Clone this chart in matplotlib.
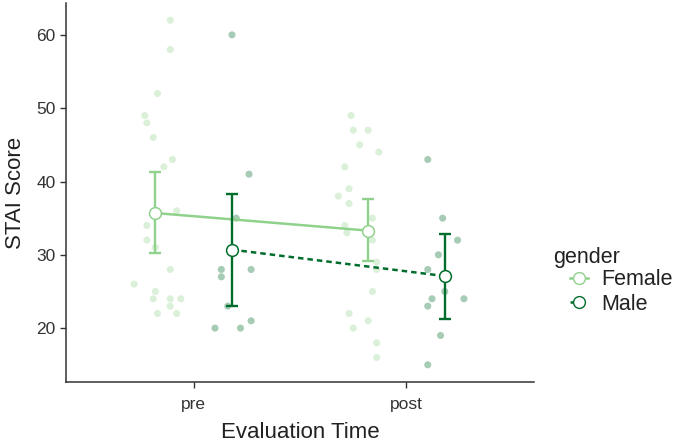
import numpy as np
import matplotlib.pyplot as plt
from matplotlib.lines import Line2D

plt.rcParams['font.family'] = ['Liberation Sans', 'DejaVu Sans']

# group summaries (mean, lower, upper)
times = ['pre', 'post']
female_mean = [35.7, 33.3]
female_lo = [30.2, 29.1]
female_hi = [41.3, 37.6]
male_mean = [30.7, 27.1]
male_lo = [23.0, 21.2]
male_hi = [38.3, 32.9]

# raw jittered points: x position (in category units), score
female_pre_x = [0.89, 0.89, 0.83, 0.77, 0.78, 0.81, 0.90, 0.86, 0.92, 0.78, 0.78,
                0.82, 0.89, 0.72, 0.82, 0.81, 0.89, 0.94, 0.89, 0.83, 0.92]
female_pre_y = [62, 58, 52, 49, 48, 46, 43, 42, 36, 34, 32,
                31, 28, 26, 25, 24, 24, 24, 23, 22, 22]
male_pre_x = [1.18, 1.26, 1.20, 1.13, 1.13, 1.27, 1.16, 1.27, 1.10, 1.22]
male_pre_y = [60, 41, 35, 28, 27, 28, 23, 21, 20, 20]
female_post_x = [1.74, 1.75, 1.82, 1.78, 1.87, 1.71, 1.73, 1.68, 1.73, 1.84, 1.71,
                 1.72, 1.84, 1.86, 1.86, 1.84, 1.73, 1.82, 1.75, 1.86, 1.86]
female_post_y = [49, 47, 47, 45, 44, 42, 39, 38, 37, 35, 34,
                 33, 32, 29, 28, 25, 22, 21, 20, 18, 16]
male_post_x = [2.10, 2.17, 2.24, 2.15, 2.10, 2.18, 2.12, 2.27, 2.10, 2.16, 2.10]
male_post_y = [43, 35, 32, 30, 28, 25, 24, 24, 23, 19, 15]

female_col = '#90d18b'
male_col = '#006d2c'
dodge = 0.18

fig = plt.figure(figsize=(6.77, 4.47), dpi=100)
ax = fig.add_axes([0.0975, 0.1454, 0.6915, 0.8479])

ax.scatter(female_pre_x + female_post_x, female_pre_y + female_post_y,
           s=26, color=female_col, alpha=0.32, edgecolors='none', zorder=2)
ax.scatter(male_pre_x + male_post_x, male_pre_y + male_post_y,
           s=26, color=male_col, alpha=0.35, edgecolors='none', zorder=2)

male_ls = (0, (2.2, 1.6))
xpos = np.arange(1, len(times) + 1)
for off, m, lo, hi, col, ls in [(-dodge, female_mean, female_lo, female_hi, female_col, '-'),
                                (dodge, male_mean, male_lo, male_hi, male_col, male_ls)]:
    xs = xpos + off
    m = np.array(m)
    ax.plot(xs, m, color=col, lw=1.8, ls=ls, zorder=3)
    ax.errorbar(xs, m, yerr=[m - np.array(lo), np.array(hi) - m], fmt='none',
                ecolor=col, elinewidth=1.7, capsize=4, capthick=1.7, zorder=4)
    ax.plot(xs, m, 'o', ms=8.5, mfc='white', mec=col, mew=1.1, zorder=5)

ax.set_xlim(0.4, 2.6)
ax.set_ylim(12.65, 64.35)
ax.set_xticks(xpos)
ax.set_xticklabels(times)
ax.set_yticks([20, 30, 40, 50, 60])
ax.tick_params(labelsize=12.5, color='#333333', labelcolor='#333333', length=4, width=1)
ax.tick_params(axis='x', pad=7)
for s in ['top', 'right']:
    ax.spines[s].set_visible(False)
for s in ['left', 'bottom']:
    ax.spines[s].set_color('#333333')
    ax.spines[s].set_linewidth(1.1)
ax.set_xlabel('Evaluation Time', fontsize=16, color='#222222', labelpad=7)
ax.set_ylabel('STAI Score', fontsize=16, color='#222222', labelpad=7)

# legend: title drawn separately so keys sit indented like ggplot
fig.text(553 / 677, 1 - 258 / 447, 'gender', fontsize=15.5, color='#222222',
         ha='left', va='center')
handles = [Line2D([], [], color=female_col, ls='-', marker='o', ms=8.5, mfc='white', mec=female_col, lw=1.8),
           Line2D([], [], color=male_col, ls=male_ls, marker='o', ms=8.5, mfc='white', mec=male_col, lw=1.8)]
leg = fig.legend(handles, ['Female', 'Male'], loc='center left',
                 bbox_to_anchor=(570 / 677, 1 - 292 / 447), frameon=False, fontsize=15.5,
                 handlelength=0.85, handletextpad=0.62,
                 labelspacing=0.15, borderpad=0, borderaxespad=0)
for t in leg.get_texts():
    t.set_color('#222222')

fig.savefig('out.png', dpi=100)
